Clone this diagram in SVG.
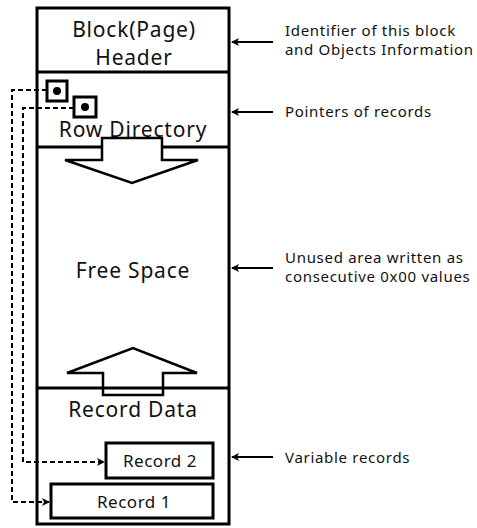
<svg xmlns="http://www.w3.org/2000/svg" width="477" height="528" viewBox="0 0 477 528">
<defs>
<style>
.t{font-family:"Noto Sans","Open Sans",sans-serif;fill:#111;}
.big{font-size:21px;text-anchor:middle;letter-spacing:0.8px;}
.rec{font-size:17px;text-anchor:middle;letter-spacing:0.5px;}
.note{font-size:15px;letter-spacing:0.7px;}
.thick{fill:none;stroke:#000;stroke-width:3;}
.arr{fill:#fff;stroke:#000;stroke-width:2.5;stroke-linejoin:miter;}
.dash{fill:none;stroke:#000;stroke-width:2;stroke-dasharray:5,3;}
.lead{fill:none;stroke:#000;stroke-width:2;}
</style>
<marker id="ah" markerWidth="8" markerHeight="8" refX="7" refY="4" orient="auto" markerUnits="userSpaceOnUse">
<path d="M0,0 L8,4 L0,8 L2,4 Z" fill="#000"/>
</marker>
</defs>
<rect width="477" height="528" fill="#fff"/>
<g id="block">
<rect class="thick" x="37" y="8" width="192" height="516"/>
</g>
<g id="header">
<line class="thick" x1="37" y1="72" x2="229" y2="72"/>
<text class="t big" x="134" y="37">Block(Page)</text>
<text class="t big" x="134" y="65">Header</text>
</g>
<g id="row-directory">
<line class="thick" x1="37" y1="147" x2="229" y2="147"/>
<text class="t big" x="133" y="137">Row Directory</text>
</g>
<g id="pointer1">
<rect x="47" y="81" width="20" height="20" fill="#fff" stroke="#000" stroke-width="3"/>
<circle cx="57" cy="91" r="4" fill="#000"/>
</g>
<g id="pointer2">
<rect x="74" y="97" width="22" height="20" fill="#fff" stroke="#000" stroke-width="3"/>
<circle cx="85" cy="107" r="4" fill="#000"/>
</g>
<g id="free-space">
<path class="arr" d="M102,138 L162,138 L162,160 L198,160 L132,183 L65,160 L102,160 Z"/>
<text class="t big" x="133" y="278">Free Space</text>
<path class="arr" d="M103,395 L163,395 L163,373 L197,373 L133,348 L67,373 L103,373 Z"/>
</g>
<g id="record-data">
<line class="thick" x1="37" y1="388" x2="229" y2="388"/>
<text class="t big" x="133" y="417">Record Data</text>
</g>
<g id="record2">
<rect class="thick" x="106" y="443" width="107" height="35" fill="#fff"/>
<text class="t rec" x="160" y="467">Record 2</text>
</g>
<g id="record1">
<rect class="thick" x="51" y="484" width="162" height="34" fill="#fff"/>
<text class="t rec" x="134" y="508">Record 1</text>
</g>
<g id="connectors">
<path class="dash" d="M47,90 L12,90 L12,502 L49,502" marker-end="url(#ah)"/>
<path class="dash" d="M74,108 L23,108 L23,462 L104,462" marker-end="url(#ah)"/>
<line class="lead" x1="273" y1="42" x2="232" y2="42" marker-end="url(#ah)"/>
<line class="lead" x1="273" y1="112" x2="232" y2="112" marker-end="url(#ah)"/>
<line class="lead" x1="273" y1="268" x2="232" y2="268" marker-end="url(#ah)"/>
<line class="lead" x1="273" y1="457" x2="232" y2="457" marker-end="url(#ah)"/>
</g>
<g id="notes">
<text class="t note" x="285" y="36">Identifier of this block</text>
<text class="t note" x="285" y="55">and Objects Information</text>
<text class="t note" x="285" y="117">Pointers of records</text>
<text class="t note" x="285" y="263">Unused area written as</text>
<text class="t note" x="285" y="282">consecutive 0x00 values</text>
<text class="t note" x="285" y="463">Variable records</text>
</g>
</svg>
